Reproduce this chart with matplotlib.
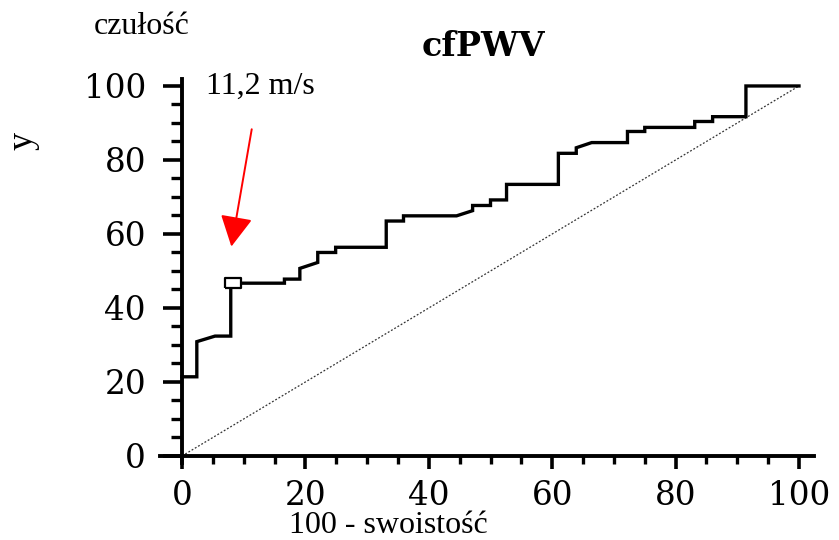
import numpy as np
import matplotlib
matplotlib.use("Agg")
import matplotlib.pyplot as plt
from matplotlib.ticker import MultipleLocator

# ROC curve vertices (100 - specificity, sensitivity)
fpr = [0, 2.4, 2.4, 5.35, 7.9, 7.9, 16.6, 16.6, 19.1, 19.1, 22.0, 22.0, 24.9, 24.9,
       33.1, 33.1, 35.9, 35.9, 44.5, 47.1, 47.1, 50.0, 50.0, 52.6, 52.6, 61.0, 61.0,
       63.9, 63.9, 66.4, 72.2, 72.2, 75.0, 75.0, 83.1, 83.1, 86.0, 86.0, 91.4, 91.4, 100]
tpr = [21.4, 21.4, 30.9, 32.4, 32.4, 46.7, 46.7, 47.8, 47.8, 50.7, 52.3, 55.0, 55.0, 56.4,
       56.4, 63.5, 63.5, 64.9, 64.9, 66.3, 67.7, 67.7, 69.2, 69.2, 73.4, 73.4, 81.8,
       81.8, 83.3, 84.7, 84.7, 87.7, 87.7, 88.8, 88.8, 90.4, 90.4, 91.7, 91.7, 100, 100]

# cut-off point (11,2 m/s)
cut_x, cut_y = 8.3, 46.7
arrow_tail = (11.3, 88.3)
arrow_tip = (8.0, 56.6)

fig = plt.figure(figsize=(8.39, 5.4), dpi=100)
ax = fig.add_axes([0.1912, 0.1419, 0.7795, 0.7126])

# diagonal reference
ax.plot([0, 100], [0, 100], color="#333333", lw=0.9, ls=(0, (1.5, 1.5)))
ax.plot(fpr, tpr, color="black", lw=2.4, solid_joinstyle="miter")

rect = [(-1, -0.6), (1, -0.6), (1, 0.6), (-1, 0.6), (-1, -0.6)]
ax.plot([cut_x], [cut_y], marker=rect, ms=11, mfc="white", mec="black", mew=1.6, ls="none")

ax.annotate("", xy=arrow_tip, xytext=arrow_tail,
            arrowprops=dict(arrowstyle="-|>,head_length=1.9,head_width=1.0",
                            mutation_scale=10, color="red", lw=1.4,
                            shrinkA=0, shrinkB=0))

ax.set_xlim(-3.5, 102.5)
ax.set_ylim(-2, 102)
for s in ["top", "right"]:
    ax.spines[s].set_visible(False)
ax.spines["left"].set_position(("data", 0))
ax.spines["bottom"].set_position(("data", 0))
for s in ["left", "bottom"]:
    ax.spines[s].set_linewidth(2.8)

ax.xaxis.set_minor_locator(MultipleLocator(5))
ax.yaxis.set_minor_locator(MultipleLocator(5))
ax.set_xticks(np.arange(0, 101, 20))
ax.set_yticks(np.arange(0, 101, 20))

ax.tick_params(axis="y", which="major", direction="out", length=14, width=2.6, pad=12)
ax.tick_params(axis="y", which="minor", direction="out", length=8, width=2.4)
ax.tick_params(axis="x", which="major", direction="out", length=9.5, width=2.6, pad=8)
ax.tick_params(axis="x", which="minor", direction="out", length=5.5, width=2.4)
for lab in ax.get_xticklabels() + ax.get_yticklabels():
    lab.set_fontfamily("DejaVu Serif")
    lab.set_fontsize(23.5)

fig.text(0.169, 0.95, "czułość", family="Liberation Serif", fontsize=23, ha="center", va="center")
fig.text(0.31, 0.841, "11,2 m/s", family="Liberation Serif", fontsize=23, ha="center", va="center")
fig.text(0.4625, 0.026, "100 - swoistość", family="Liberation Serif", fontsize=23, ha="center", va="center")
fig.text(0.576, 0.913, "cfPWV", family="DejaVu Serif", fontweight="bold", fontsize=24, ha="center", va="center")
fig.text(0.027, 0.739, "y", family="Liberation Serif", fontsize=26, rotation=90, ha="center", va="center")

fig.savefig("out.png", dpi=100)
